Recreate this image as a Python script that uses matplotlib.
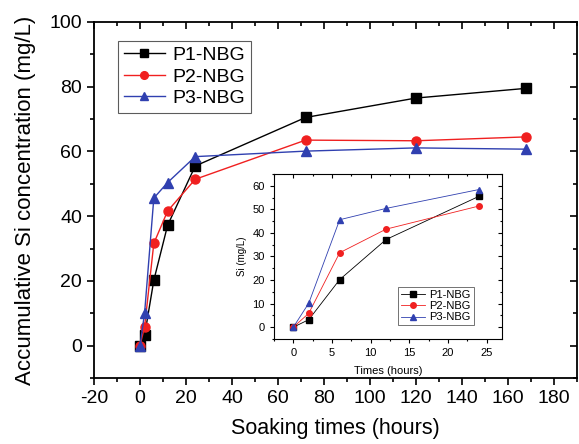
import matplotlib
matplotlib.use("Agg")
import matplotlib.pyplot as plt
from matplotlib.ticker import MultipleLocator

plt.rcParams['font.family'] = ['Liberation Sans', 'DejaVu Sans']
plt.rcParams['axes.unicode_minus'] = False

times = [0, 2, 6, 12, 24, 72, 120, 168]
p1 = [0, 3.2, 20.2, 37.2, 55.5, 70.5, 76.5, 79.5]
p2 = [0, 5.9, 31.6, 41.6, 51.4, 63.5, 63.3, 64.5]
p3 = [0, 10.2, 45.6, 50.4, 58.4, 60.1, 61.1, 60.7]
labels = ["P1-NBG", "P2-NBG", "P3-NBG"]
colors = ["#000000", "#f02020", "#3040b0"]
markers = ["s", "o", "^"]

fig = plt.figure(figsize=(5.79, 4.44), dpi=100)
ax = fig.add_axes([0.1624, 0.1486, 0.8341, 0.8019])
for y, lab, c, m in zip([p1, p2, p3], labels, colors, markers):
    ax.plot(times, y, color=c, marker=m, markersize=6.5, linewidth=1.0, label=lab)
ax.set_xlim(-20, 190)
ax.set_ylim(-10, 100)
ax.xaxis.set_major_locator(MultipleLocator(20))
ax.xaxis.set_minor_locator(MultipleLocator(10))
ax.yaxis.set_major_locator(MultipleLocator(20))
ax.yaxis.set_minor_locator(MultipleLocator(10))
ax.tick_params(which='both', direction='out', labelsize=14, width=1.2)
ax.tick_params(which='major', length=5)
ax.tick_params(which='minor', length=3)
ax.tick_params(which='both', top=True, right=True)
for s in ax.spines.values():
    s.set_linewidth(1.3)
ax.set_xlabel("Soaking times (hours)", fontsize=15.5, labelpad=8)
ax.set_ylabel("Accumulative Si concentration (mg/L)", fontsize=16, labelpad=10)
ax.set_xticks([-20, 0, 20, 40, 60, 80, 100, 120, 140, 160, 180])
leg = ax.legend(loc='upper left', bbox_to_anchor=(0.03, 0.975), fontsize=14, frameon=True,
                fancybox=False, edgecolor='#333333', handlelength=2.1, borderpad=0.3,
                labelspacing=0.2, handletextpad=0.4, markerscale=0.85)
leg.get_frame().set_linewidth(0.8)

for t in ax.xaxis.get_major_ticks() + ax.xaxis.get_minor_ticks():
    t.tick2line.set_marker(3)
for t in ax.yaxis.get_major_ticks() + ax.yaxis.get_minor_ticks():
    t.tick2line.set_marker(0)

ins = fig.add_axes([0.4732, 0.2365, 0.3938, 0.3716])
for y, lab, c, m in zip([p1, p2, p3], labels, colors, markers):
    ins.plot(times[:5], y[:5], color=c, marker=m, markersize=4, linewidth=0.6, label=lab)
ins.set_xlim(-2.5, 27)
ins.set_ylim(-5, 65)
ins.xaxis.set_major_locator(MultipleLocator(5))
ins.xaxis.set_minor_locator(MultipleLocator(2.5))
ins.yaxis.set_major_locator(MultipleLocator(10))
ins.yaxis.set_minor_locator(MultipleLocator(5))
ins.tick_params(which='both', direction='out', labelsize=8, width=0.8)
ins.tick_params(which='major', length=3)
ins.tick_params(which='minor', length=1.5)
ins.tick_params(which='both', top=True, right=True)
for t in ins.xaxis.get_major_ticks() + ins.xaxis.get_minor_ticks():
    t.tick2line.set_marker(3)
for t in ins.yaxis.get_major_ticks() + ins.yaxis.get_minor_ticks():
    t.tick2line.set_marker(0)
for s in ins.spines.values():
    s.set_linewidth(0.8)
ins.set_xlabel("Times (hours)", fontsize=8, labelpad=6)
ins.set_ylabel("Si (mg/L)", fontsize=7, labelpad=4)
il = ins.legend(loc='lower right', bbox_to_anchor=(0.9, 0.05), fontsize=8, frameon=True,
                fancybox=False, edgecolor='#333333', handlelength=2.2, borderpad=0.25,
                labelspacing=0.1, handletextpad=0.4)
il.get_frame().set_linewidth(0.6)

fig.savefig("out.png", dpi=100)
